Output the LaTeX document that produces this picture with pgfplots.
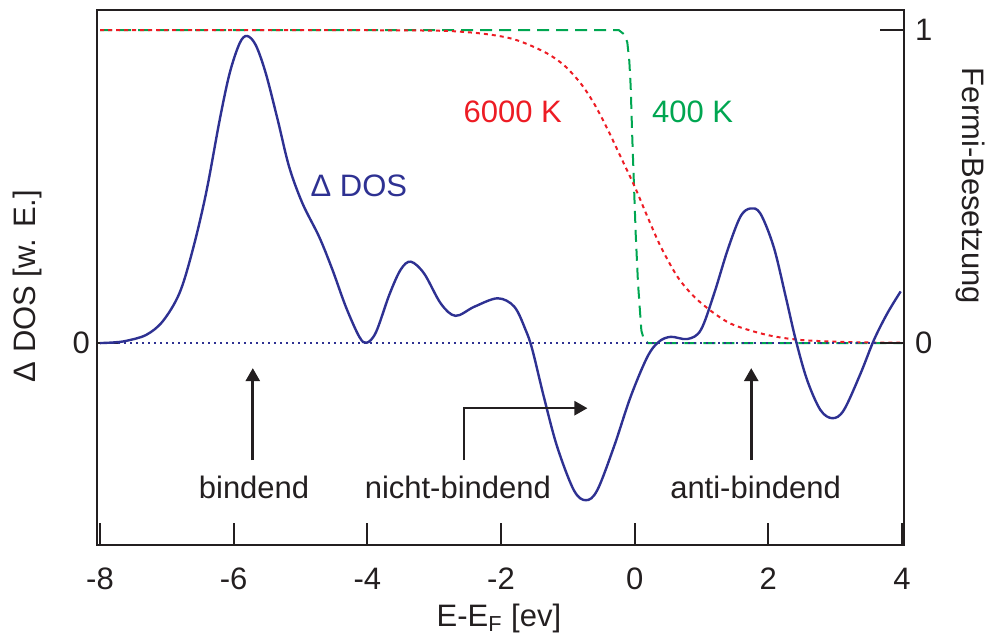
\documentclass[border=0pt]{standalone}
\usepackage{fontspec}
\setmainfont{Liberation Sans}
\usepackage{pgfplots}
\pgfplotsset{compat=1.18}
\usetikzlibrary{arrows.meta}
\definecolor{dosblue}{RGB}{46,49,146}
\definecolor{fred}{RGB}{237,28,36}
\definecolor{fgreen}{RGB}{0,166,81}
\definecolor{txt}{RGB}{35,31,32}

\pgfplotstableread{
x y
-8.00 0.000
-7.80 0.002
-7.61 0.007
-7.31 0.026
-7.06 0.070
-6.81 0.160
-6.61 0.300
-6.41 0.482
-6.21 0.712
-6.06 0.862
-5.91 0.958
-5.80 0.981
-5.67 0.952
-5.52 0.862
-5.34 0.712
-5.17 0.563
-4.97 0.446
-4.72 0.339
-4.52 0.233
-4.32 0.115
-4.12 0.020
-4.01 0.001
-3.87 0.035
-3.67 0.155
-3.50 0.235
-3.35 0.260
-3.15 0.222
-2.90 0.126
-2.68 0.087
-2.40 0.116
-2.05 0.143
-1.80 0.116
-1.63 0.041
-1.53 -0.022
-1.36 -0.171
-1.16 -0.331
-0.91 -0.470
-0.73 -0.502
-0.56 -0.470
-0.31 -0.331
-0.06 -0.171
0.19 -0.044
0.36 0.004
0.54 0.020
0.79 0.013
0.99 0.042
1.19 0.159
1.39 0.297
1.58 0.403
1.73 0.430
1.88 0.414
2.08 0.307
2.26 0.148
2.41 0.010
2.58 -0.118
2.78 -0.214
2.96 -0.240
3.13 -0.214
3.38 -0.097
3.58 0.010
3.78 0.095
3.98 0.165
}\dostable

\pgfplotstableread{
x y
-8.00 1.000
-3.50 0.999
-2.50 0.993
-1.85 0.973
-1.36 0.931
-1.06 0.888
-0.81 0.830
-0.61 0.766
-0.41 0.685
-0.21 0.595
0.00 0.500
0.19 0.404
0.39 0.308
0.64 0.212
0.89 0.148
1.19 0.095
1.48 0.058
1.98 0.026
2.48 0.010
3.23 0.003
4.00 0.001
}\redtable

\pgfplotstableread{
x y
-8.00 1.000
-0.24 1.000
-0.15 0.985
-0.11 0.960
-0.08 0.900
-0.06 0.820
-0.035 0.650
-0.01 0.500
0.015 0.350
0.05 0.190
0.10 0.040
0.14 0.010
0.20 0.000
4.00 0.000
}\greentable

\begin{document}
\begin{tikzpicture}[font=\fontsize{15.5}{18}\selectfont, >={Triangle[length=6.5pt,width=7pt]}]
\begin{axis}[name=ax, scale only axis, width=403.5pt, height=267.5pt,
  xmin=-8.045, xmax=4.03, ymin=-0.645, ymax=1.064,
  xtick={-8,-6,...,4}, ytick={0},
  xtick pos=bottom, ytick pos=left, tick align=inside, major tick length=11pt,
  axis line style={line width=1pt, color=txt},
  tick style={line width=1pt, color=txt},
  /pgf/number format/assume math mode=true,
  ticklabel style={font=\fontsize{15.5}{18}\selectfont, text=txt},
  xticklabel style={anchor=base, yshift=-22.5pt},
  clip=false]
\addplot[fgreen, line width=1pt, dash pattern=on 6pt off 3.5pt] table[x=x,y=y] {\greentable};
\addplot[fred, line width=1pt, dash pattern=on 2pt off 2pt, smooth, tension=0.5] table[x=x,y=y] {\redtable};
\addplot[dosblue, line width=1pt, dash pattern=on 1pt off 2pt] coordinates {(-8,0) (4,0)};
\addplot[dosblue, line width=1.2pt, smooth, tension=0.55] table[x=x,y=y] {\dostable};

\node[dosblue, anchor=base] at (axis cs:-4.126,0.467) {Δ DOS};
\node[fred, anchor=base] at (axis cs:-1.824,0.706) {6000 K};
\node[fgreen, anchor=base] at (axis cs:0.867,0.706) {400 K};
\node[txt, anchor=base] at (axis cs:-5.695,-0.495) {bindend};
\node[txt, anchor=base] at (axis cs:-2.646,-0.495) {nicht-bindend};
\node[txt, anchor=base] at (axis cs:1.809,-0.495) {anti-bindend};
\draw[->, line width=1.3pt, txt] (axis cs:-5.714,-0.374) -- (axis cs:-5.714,-0.080);
\draw[->, line width=1.3pt, txt] (axis cs:1.744,-0.374) -- (axis cs:1.744,-0.080);
\draw[->, line width=1.3pt, txt] (axis cs:-2.552,-0.374) |- (axis cs:-0.707,-0.208);

\node[txt, rotate=90] at (rel axis cs:-0.0867,0.484) {Δ DOS [w. E.]};
\node[txt, rotate=-90] at (rel axis cs:1.0818,0.671) {Fermi-Besetzung};
\node[txt, anchor=base] at (rel axis cs:0.498,-0.152) {E-E\textsubscript{F} [ev]};
\end{axis}
\begin{axis}[scale only axis, width=403.5pt, height=267.5pt,
  xmin=-8.045, xmax=4.03, ymin=-0.645, ymax=1.064,
  axis x line=none, axis y line*=right, ytick={0,1},
  tick align=inside, major tick length=12pt,
  axis line style={line width=1pt, color=txt, -},
  tick style={line width=1pt, color=txt},
  /pgf/number format/assume math mode=true,
  ticklabel style={font=\fontsize{15.5}{18}\selectfont, text=txt},
  yticklabel style={xshift=2pt}]
\addplot[draw=none] coordinates {(0,0)};
\end{axis}
\pgfresetboundingbox
\path (ax.south west) ++(-48.5pt,-45pt) rectangle ++(497pt,317.5pt);
\end{tikzpicture}
\end{document}
